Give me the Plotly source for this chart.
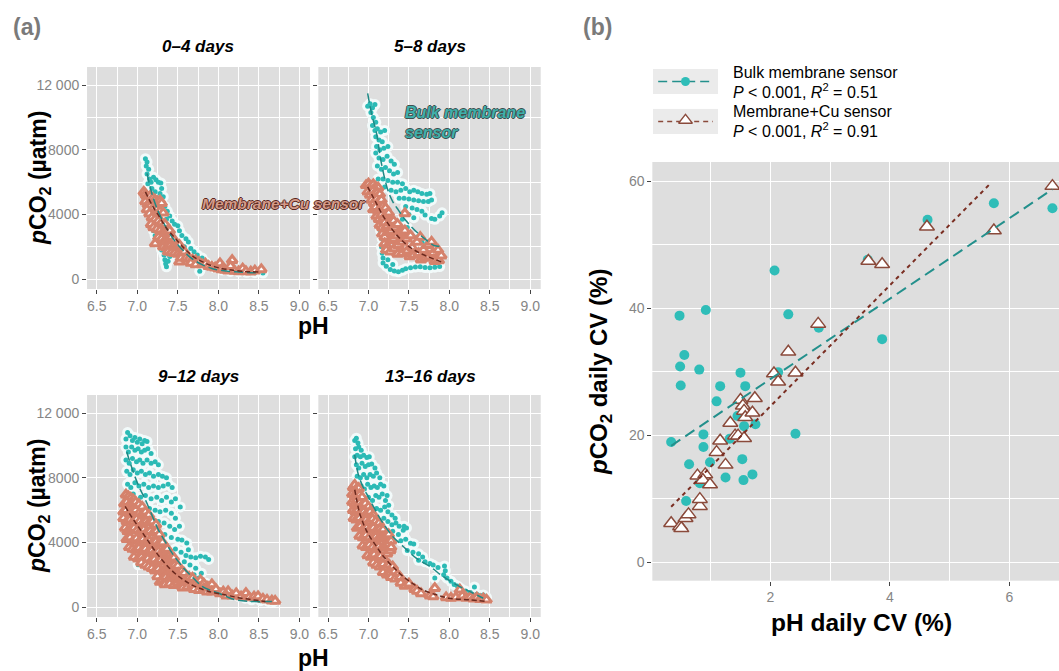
import plotly.graph_objects as go

# colours / fonts
TEAL = "#2BBAB5"
TEAL_LINE = "#1E8985"
SALMON = "#D5826C"
BROWN = "#6B2A1F"
TRI_EDGE = "#8A4A3B"
PANEL = "#DEDEDE"
TICK_TXT = "#858585"
FONT = "Liberation Sans"

##############################################################
# panel (a): pCO2 vs pH, one facet per period  (pH, pCO2 uatm)
##############################################################
facet_titles = ["0–4 days", "5–8 days", "9–12 days", "13–16 days"]

bulk_04 = [(7.10,7450),(7.12,7250),(7.11,7000),(7.14,6800),(7.12,6500),(7.15,6200),(7.13,5900),(7.17,6000),
           (7.20,6300),(7.23,6150),(7.26,6000),(7.29,5950),(7.30,5600),(7.28,5300),(7.32,5100),(7.18,5600),
           (7.22,5400),(7.25,5000),(7.30,4700),(7.34,4500),(7.37,4200),(7.21,4600),(7.24,4300),(7.40,3900),
           (7.43,3600),(7.46,3400),(7.50,3300),(7.36,3700),(7.52,3000),(7.55,2700),(7.60,2500),(7.63,2300),
           (7.58,2000),(7.66,1900),(7.70,1700),(7.74,1500),(7.80,1300),(7.84,1050),(7.90,850),(7.77,490),
           (7.20,3000),(7.22,2700),(7.25,2400),(7.28,2100),(7.30,1800),(7.33,1500),(7.34,1200),(7.35,950),
           (7.36,760),(7.38,1100),(7.40,1400),(7.42,1800),(7.95,700),(8.05,560),(8.15,480),(8.25,450),
           (8.35,420),(8.45,400),(8.55,380),(7.32,3300),(7.28,3700),(7.26,2700)]
cu_04 = [(7.08,5400),(7.10,5250),(7.12,5100),(7.14,5000),(7.16,5150),(7.19,5000),(7.22,4900),(7.25,4800),
         (7.28,4850),(7.30,4700),(7.10,4800),(7.13,4600),(7.16,4500),(7.20,4400),(7.24,4300),(7.28,4200),
         (7.32,4100),(7.12,4300),(7.15,4050),(7.18,3800),(7.22,3700),(7.26,3600),(7.30,3500),(7.34,3400),
         (7.17,3400),(7.20,3200),(7.24,3100),(7.28,3000),(7.32,2900),(7.36,2950),(7.40,3000),(7.22,2200),
         (7.26,2600),(7.30,2500),(7.34,2400),(7.38,2500),(7.42,2600),(7.46,2400),(7.32,2000),(7.36,1950),
         (7.40,2050),(7.44,2000),(7.48,2000),(7.52,2100),(7.38,1700),(7.42,1650),(7.46,1600),(7.50,1550),
         (7.55,1600),(7.58,1700),(7.52,1070),(7.54,1300),(7.60,1300),(7.64,1250),(7.68,1200),(7.72,1150),
         (7.76,1050),(7.66,1000),(7.72,900),(7.80,900),(7.84,950),(7.88,800),(7.92,750),(7.96,700),
         (8.00,650),(8.02,970),(8.04,600),(8.08,560),(8.12,520),(8.17,1170),(8.15,800),(8.20,500),
         (8.25,480),(8.30,650),(8.34,480),(8.40,460),(8.45,520),(8.53,600)]
fit_bulk_04 = [(7.12,6540),(7.18,5300),(7.26,4160),(7.36,3150),(7.47,2310),(7.57,1750),(7.67,1280),
               (7.80,900),(7.92,660),(8.05,530),(8.21,450),(8.35,410),(8.50,390)]
fit_cu_04 = [(7.10,5400),(7.18,4600),(7.26,3960),(7.36,3150),(7.47,2520),(7.57,1950),(7.67,1480),
             (7.80,1080),(7.96,760),(8.12,590),(8.29,490),(8.50,440)]

bulk_58 = [(6.99,10700),(7.02,10850),(7.05,10600),(7.08,10800),(7.03,10300),(7.06,10000),(7.09,9700),
           (7.05,9500),(7.08,9200),(7.11,9300),(7.15,9100),(7.20,9200),(7.09,8800),(7.13,8600),(7.17,8500),
           (7.10,8200),(7.14,8000),(7.19,8100),(7.24,8200),(7.09,7800),(7.13,7500),(7.18,7400),(7.23,7600),
           (7.28,7300),(7.32,7100),(7.11,7000),(7.16,6800),(7.21,6900),(7.26,6700),(7.31,6500),(7.36,6600),
           (7.12,6200),(7.18,6200),(7.24,6100),(7.30,6000),(7.36,6000),(7.42,5900),(7.20,5700),(7.28,5500),
           (7.34,5400),(7.40,5500),(7.46,5600),(7.51,5400),(7.56,5500),(7.61,5400),(7.66,5300),(7.72,5250),
           (7.76,5300),(7.38,5000),(7.44,5000),(7.50,4950),(7.56,4900),(7.62,4850),(7.68,4800),(7.74,4800),
           (7.78,4900),(7.46,4500),(7.54,4400),(7.60,4300),(7.66,4200),(7.70,3960),(7.78,3750),(7.82,3700),
           (7.88,3900),(7.91,4100),(7.50,4000),(7.56,3800),(7.14,3500),(7.15,3000),(7.17,2500),(7.16,2000),
           (7.17,1600),(7.18,1300),(7.18,1000),(7.22,800),(7.27,600),(7.32,500),(7.37,450),(7.42,550),
           (7.46,650),(7.52,700),(7.58,750),(7.64,760),(7.70,720),(7.76,700),(7.82,740),(7.88,780),
           (7.24,1200),(7.30,900),(7.60,2600),(7.66,2300),(7.72,2200),(7.48,3200),(7.42,3700)]
cu_58 = [(6.97,5800),(7.00,5900),(7.03,5750),(7.06,5850),(7.09,5700),(7.12,5650),(6.99,5400),(7.02,5200),
         (7.05,5450),(7.08,5300),(7.11,5350),(7.14,5250),(7.04,4900),(7.07,4700),(7.10,4950),(7.13,4800),
         (7.16,4900),(7.06,4300),(7.09,4450),(7.12,4200),(7.15,4400),(7.18,4500),(7.21,4400),(7.10,3900),
         (7.13,3700),(7.16,4000),(7.19,3800),(7.22,4000),(7.25,4100),(7.14,3350),(7.17,3200),(7.20,3500),
         (7.23,3300),(7.27,3500),(7.31,3600),(7.17,2800),(7.20,2600),(7.24,2900),(7.28,3000),(7.32,3200),
         (7.36,3400),(7.45,4060),(7.20,2200),(7.23,2000),(7.27,2400),(7.31,2500),(7.35,2700),(7.40,2900),
         (7.45,3000),(7.22,1800),(7.27,1700),(7.32,1900),(7.37,2100),(7.42,2300),(7.47,2500),(7.52,2700),
         (7.36,1550),(7.42,1600),(7.48,1750),(7.54,1950),(7.60,2300),(7.64,2600),(7.51,1400),(7.56,1500),
         (7.62,1600),(7.68,1800),(7.74,2100),(7.78,2300),(7.65,1200),(7.70,1300),(7.75,1400),(7.80,1600),
         (7.86,1800),(7.82,1100),(7.87,1150),(7.90,1450)]
fit_bulk_58 = [(6.99,11490),(7.04,10200),(7.10,9010),(7.16,7160),(7.24,5500),(7.30,4800),(7.37,4270),
               (7.45,3700),(7.53,3240),(7.61,2850),(7.69,2520),(7.82,2060),(7.90,2050)]
fit_cu_58 = [(6.99,5710),(7.06,5050),(7.12,4470),(7.18,3920),(7.24,3450),(7.32,2900),(7.41,2410),
             (7.49,2060),(7.57,1790),(7.65,1570),(7.74,1380),(7.82,1220),(7.90,1070)]

bulk_912 = [(6.86,10400),(6.88,10800),(6.91,10600),(6.94,10300),(6.97,10500),(7.00,10200),(7.03,10400),
            (7.06,10100),(7.09,10300),(7.12,10250),(6.86,9900),(6.89,9600),(6.93,9900),(6.97,9700),
            (7.01,9800),(7.05,9600),(7.09,9700),(7.13,9800),(7.17,9500),(6.86,9100),(6.90,8900),(6.94,9200),
            (6.99,9000),(7.03,9100),(7.07,8900),(7.12,9100),(7.17,8900),(7.22,9000),(7.26,8800),(6.87,8400),
            (6.91,8200),(6.95,8500),(7.00,8300),(7.05,8400),(7.10,8200),(7.15,8300),(7.20,8100),(7.26,8200),
            (7.31,8100),(7.36,8000),(6.88,7600),(6.92,7400),(6.97,7700),(7.02,7500),(7.08,7600),(7.14,7400),
            (7.20,7500),(7.26,7400),(7.32,7500),(7.38,7600),(7.43,7400),(6.90,6900),(6.95,7000),(7.04,6800),
            (7.10,6900),(7.17,6700),(7.24,6800),(7.30,6600),(7.36,6800),(7.42,6500),(7.47,6700),(7.53,6200),
            (7.15,6100),(7.22,6000),(7.28,5900),(7.35,6000),(7.42,5800),(7.47,5500),(7.26,5300),(7.33,5200),
            (7.40,5000),(7.46,4800),(7.52,5000),(7.34,4500),(7.42,4300),(7.50,4200),(7.55,4150),(7.61,3960),
            (7.63,3550),(7.47,3600),(7.54,3400),(7.60,3200),(7.66,3100),(7.72,3050),(7.78,3150),(7.84,3100),
            (7.88,2950),(7.58,2800),(7.65,2600),(7.72,2400),(7.79,2100),(7.01,2620),(7.03,2800),(7.05,2950),
            (7.70,2000),(7.76,1800),(7.84,1500),(7.92,1250),(8.00,1050),(8.08,870),(8.16,750),(8.25,660),
            (8.33,550),(8.41,450),(8.52,400),(8.62,350),(8.68,340)]
cu_912 = [(6.86,6950),(6.89,6850),(6.92,6750),(6.95,6650),(6.84,6400),(6.87,6500),(6.90,6300),(6.94,6400),
          (6.98,6500),(7.02,6350),(7.06,6200),(6.83,5900),(6.86,6000),(6.90,5800),(6.94,5900),(6.98,6000),
          (7.02,5800),(7.06,5750),(7.10,5900),(7.14,5700),(6.83,5500),(6.87,5300),(6.91,5400),(6.95,5300),
          (6.99,5450),(7.03,5300),(7.07,5200),(7.11,5300),(7.15,5250),(7.19,5300),(7.23,5100),(6.85,4900),
          (6.88,4700),(6.92,4800),(6.96,4900),(7.00,4750),(7.04,4700),(7.08,4800),(7.12,4650),(7.16,4700),
          (7.20,4600),(7.24,4700),(7.27,4500),(6.87,4200),(6.91,4300),(6.95,4100),(6.99,4250),(7.03,4100),
          (7.07,4200),(7.11,4050),(7.15,4100),(7.19,4000),(7.23,4050),(7.27,3950),(7.31,4000),(6.90,3700),
          (6.94,3600),(6.98,3550),(7.02,3650),(7.06,3500),(7.10,3600),(7.14,3450),(7.18,3500),(7.22,3400),
          (7.26,3450),(7.30,3350),(7.34,3500),(7.37,3600),(6.96,3100),(7.01,3000),(7.05,3100),(7.09,2900),
          (7.13,3000),(7.17,2850),(7.21,2950),(7.25,2800),(7.29,2900),(7.33,2800),(7.37,2950),(7.41,3000),
          (7.45,3050),(7.05,2750),(7.10,2600),(7.14,2500),(7.18,2400),(7.22,2250),(7.26,2350),(7.30,2200),
          (7.34,2300),(7.38,2400),(7.42,2500),(7.46,2600),(7.50,2550),(7.25,1900),(7.28,1550),(7.31,1700),
          (7.35,1850),(7.39,1750),(7.43,1900),(7.47,2000),(7.51,2100),(7.55,2250),(7.58,2100),(7.34,1400),
          (7.40,1450),(7.45,1350),(7.50,1500),(7.55,1600),(7.60,1700),(7.64,1850),(7.68,1800),(7.56,1200),
          (7.62,1250),(7.68,1350),(7.73,1500),(7.78,1650),(7.82,1450),(7.70,1100),(7.76,1050),(7.82,1150),
          (7.87,1250),(7.92,1400),(7.86,950),(7.92,950),(7.97,1100),(8.02,850),(8.06,950),(8.12,970),
          (8.10,700),(8.17,700),(8.22,850),(8.28,650),(8.34,860),(8.38,600),(8.44,650),(8.49,660),
          (8.55,500),(8.60,450),(8.66,400),(8.70,380)]
fit_bulk_912 = [(6.87,9600),(6.92,8800),(6.97,8080),(7.03,7350),(7.10,6640),(7.18,5700),(7.26,4780),
                (7.35,4000),(7.43,3340),(7.51,2800),(7.59,2310),(7.70,1750),(7.80,1280),(7.90,1050),
                (8.00,870),(8.10,650),(8.21,450),(8.41,350),(8.66,350)]
fit_cu_912 = [(6.85,6230),(6.93,5580),(7.01,4990),(7.10,4340),(7.18,3750),(7.26,3200),(7.34,2720),
              (7.42,2290),(7.51,1900),(7.59,1620),(7.67,1380),(7.78,1150),(7.88,970),(8.08,760),
              (8.29,550),(8.58,350)]

bulk_1316 = [(6.83,10300),(6.85,10450),(6.87,10150),(6.84,9800),(6.88,9900),(6.91,9700),(6.83,9300),
             (6.86,9400),(6.90,9300),(6.94,9400),(6.98,9250),(7.01,9300),(6.85,8800),(6.88,8600),(6.92,8900),
             (6.96,8700),(7.00,8800),(7.04,8850),(7.08,8600),(6.86,8100),(6.90,8000),(6.94,8200),(6.98,8000),
             (7.02,8200),(7.06,8100),(7.10,8300),(7.14,8000),(6.91,7500),(6.95,7300),(6.99,7600),(7.03,7400),
             (7.07,7500),(7.11,7400),(7.15,7600),(7.19,7500),(7.23,6900),(7.00,6800),(7.05,6600),(7.09,6900),
             (7.13,6800),(7.17,7000),(7.21,6600),(7.25,6300),(7.10,6100),(7.15,6000),(7.20,6200),(7.24,5900),
             (7.29,5700),(7.33,5500),(7.19,5500),(7.24,5300),(7.29,5100),(7.34,5200),(7.38,5000),(7.44,5000),
             (7.30,4700),(7.37,4500),(7.43,4750),(7.47,4900),(7.40,4100),(7.46,4200),(7.52,3950),(7.56,3900),
             (7.48,3500),(7.55,3400),(7.62,3300),(7.67,3100),(7.62,2900),(7.70,2800),(7.76,2700),(7.80,2600),
             (7.86,2450),(7.94,2550),(7.95,2250),(7.93,2000),(7.82,1800),(7.97,1800),(8.02,1600),(8.06,1400),
             (8.10,1300),(8.14,1150),(8.20,1000),(8.26,900),(8.31,1250),(8.34,800),(8.38,700),(8.42,750),
             (8.46,600),(8.44,500)]
cu_1316 = [(6.81,7400),(6.83,7550),(6.85,7300),(6.88,7350),(6.80,7000),(6.83,6900),(6.86,7000),(6.89,6950),
           (6.92,6800),(6.80,6500),(6.83,6400),(6.86,6600),(6.89,6450),(6.92,6300),(6.96,6400),(7.00,6200),
           (6.81,6000),(6.84,5900),(6.87,6000),(6.90,5850),(6.94,5900),(6.98,5800),(7.02,5900),(7.06,5700),
           (6.82,5500),(6.85,5400),(6.89,5500),(6.93,5350),(6.97,5400),(7.01,5300),(7.05,5450),(7.09,5300),
           (7.13,5200),(6.86,4900),(6.90,5000),(6.94,4850),(6.98,4900),(7.02,4800),(7.06,4900),(7.10,4750),
           (7.14,4850),(7.18,4800),(6.89,4400),(6.93,4300),(6.97,4450),(7.01,4300),(7.05,4200),(7.09,4350),
           (7.13,4250),(7.17,4300),(7.21,4400),(7.25,4500),(6.93,3800),(6.97,3700),(7.01,3850),(7.05,3700),
           (7.09,3600),(7.13,3750),(7.17,3650),(7.21,3800),(7.25,3900),(7.28,4100),(6.99,3200),(7.03,3100),
           (7.07,3250),(7.11,3050),(7.15,3150),(7.19,3000),(7.23,3300),(7.27,3500),(7.28,3700),(7.06,2750),
           (7.10,2600),(7.14,2500),(7.18,2650),(7.22,2450),(7.26,2600),(7.30,2500),(7.18,2150),(7.23,2000),
           (7.27,2100),(7.32,2200),(7.36,2000),(7.28,1850),(7.33,1750),(7.39,1850),(7.40,1500),(7.45,1300),
           (7.50,1450),(7.57,1100),(7.60,1000),(7.65,850),(7.76,700),(7.82,1170),(7.80,650),(7.96,600),
           (8.02,560),(8.08,600),(8.13,1070),(8.16,700),(8.21,560),(8.26,620),(8.30,520),(8.34,580),
           (8.38,480),(8.42,520),(8.46,450)]
fit_bulk_1316 = [(6.83,9420),(6.87,8290),(6.93,7460),(7.00,6800),(7.06,6230),(7.12,5680),(7.18,5200),
                 (7.24,4760),(7.30,4370),(7.43,3750),(7.59,3030),(7.76,2510),(7.92,1900),(8.09,1380),
                 (8.25,970),(8.42,550)]
fit_cu_1316 = [(6.83,7260),(6.86,6500),(6.89,5810),(6.93,5250),(6.97,4780),(7.03,4250),(7.10,3750),
               (7.16,3300),(7.22,2930),(7.28,2600),(7.34,2310),(7.42,1930),(7.51,1590),(7.59,1310),
               (7.67,1070),(7.84,760),(8.00,550),(8.25,450),(8.46,350)]

##############################################################
# panel (b): daily CV (%)
##############################################################
bulk_ph_cv = [0.34, 0.48, 0.92, 0.56, 0.49, 0.81, 0.50, 1.16, 1.10, 1.50, 1.58, 1.45, 1.56, 1.75, 0.88,
              1.32, 0.88, 0.64, 0.99, 1.53, 1.25, 1.55, 1.70, 0.82, 0.59, 2.07, 2.30, 2.81, 2.13, 2.42,
              3.63, 3.87, 4.63, 5.74, 6.72]
bulk_pco2_cv = [18.9, 38.8, 39.7, 32.6, 30.8, 30.3, 27.8, 27.7, 25.3, 29.8, 27.7, 23.0, 21.4, 21.7, 20.1,
                19.4, 18.1, 15.4, 15.7, 16.2, 13.3, 12.9, 13.8, 12.4, 9.6, 45.9, 39.0, 36.9, 29.9, 20.2,
                47.6, 35.1, 53.9, 56.5, 55.7]
cu_ph_cv = [0.34, 0.49, 0.51, 0.58, 0.63, 0.82, 0.82, 0.78, 0.91, 0.87, 0.99, 1.10, 1.16, 1.25, 1.33,
            1.41, 1.46, 1.56, 1.50, 1.54, 1.56, 1.58, 1.70, 1.74, 2.06, 2.13, 2.30, 2.42, 2.80, 3.64,
            3.87, 4.62, 5.74, 6.72]
cu_pco2_cv = [6.1, 5.6, 5.3, 6.9, 7.5, 8.8, 9.9, 13.6, 13.8, 12.9, 12.2, 17.3, 19.1, 15.3, 21.9,
              19.9, 19.9, 19.5, 25.5, 24.6, 23.8, 22.8, 23.5, 25.8, 29.7, 28.4, 33.1, 29.8, 37.5, 47.4,
              46.9, 52.8, 52.2, 59.2]
# regression lines (end points)
bulk_fit_x = [0.34, 6.72]
bulk_fit_y = [18.3, 58.7]
cu_fit_x = [0.34, 5.67]
cu_fit_y = [8.7, 59.5]

legend_names = ["Bulk membrane sensor", "Membrane+Cu sensor"]
legend_stats = ["<i>P</i> &lt; 0.001, <i>R</i><sup>2</sup> = 0.51",
                "<i>P</i> &lt; 0.001, <i>R</i><sup>2</sup> = 0.91"]

a_ticks_x = [6.5, 7.0, 7.5, 8.0, 8.5, 9.0]
a_ticks_y = [0, 4000, 8000, 12000]
a_ticktext_y = ["0", "4000", "8000", "12 000"]


def xs(pts):
    return [p[0] for p in pts]


def ys(pts):
    return [p[1] for p in pts]


fig = go.Figure()

panels = [
    (bulk_04, cu_04, fit_bulk_04, fit_cu_04),
    (bulk_58, cu_58, fit_bulk_58, fit_cu_58),
    (bulk_912, cu_912, fit_bulk_912, fit_cu_912),
    (bulk_1316, cu_1316, fit_bulk_1316, fit_cu_1316),
]

for i, (bulk, cu, fb, fc) in enumerate(panels):
    n = "" if i == 0 else str(i + 1)
    xa, ya = "x" + n, "y" + n
    # white halo under the teal dots, then the dots
    fig.add_trace(go.Scatter(x=xs(bulk), y=ys(bulk), mode="markers", xaxis=xa, yaxis=ya,
                             marker=dict(size=11, color="#F2FAFA", line=dict(width=0))))
    fig.add_trace(go.Scatter(x=xs(bulk), y=ys(bulk), mode="markers", xaxis=xa, yaxis=ya,
                             marker=dict(size=5, color=TEAL, line=dict(width=0))))
    # triangles: white halo then salmon outline
    fig.add_trace(go.Scatter(x=xs(cu), y=ys(cu), mode="markers", xaxis=xa, yaxis=ya,
                             marker=dict(symbol="triangle-up", size=11.5, color="white", line=dict(width=0))))
    fig.add_trace(go.Scatter(x=xs(cu), y=ys(cu), mode="markers", xaxis=xa, yaxis=ya,
                             marker=dict(symbol="triangle-up", size=9, color="white",
                                         line=dict(color=SALMON, width=3))))
    fig.add_trace(go.Scatter(x=xs(fb), y=ys(fb), mode="lines", xaxis=xa, yaxis=ya,
                             line=dict(color=TEAL_LINE, width=1.5, dash="9px,4px", shape="spline")))
    fig.add_trace(go.Scatter(x=xs(fc), y=ys(fc), mode="lines", xaxis=xa, yaxis=ya,
                             line=dict(color=BROWN, width=1.5, dash="5px,3px", shape="spline")))

# panel (b)
fig.add_trace(go.Scatter(x=bulk_ph_cv, y=bulk_pco2_cv, mode="markers", xaxis="x5", yaxis="y5",
                         marker=dict(size=10, color="#2FBDB8")))
fig.add_trace(go.Scatter(x=cu_ph_cv, y=cu_pco2_cv, mode="markers", xaxis="x5", yaxis="y5",
                         marker=dict(symbol="triangle-up", size=13, color="white",
                                     line=dict(color=TRI_EDGE, width=1.5))))
fig.add_trace(go.Scatter(x=bulk_fit_x, y=bulk_fit_y, mode="lines", xaxis="x5", yaxis="y5",
                         line=dict(color="#23908C", width=2, dash="11px,6px")))
fig.add_trace(go.Scatter(x=cu_fit_x, y=cu_fit_y, mode="lines", xaxis="x5", yaxis="y5",
                         line=dict(color="#7A2E22", width=2, dash="4px,4px")))

# legend keys for (b), drawn by hand in two tiny axes
fig.add_trace(go.Scatter(x=[0.08, 0.92], y=[0.5, 0.5], mode="lines", xaxis="x6", yaxis="y6",
                         line=dict(color="#23908C", width=1.3, dash="9px,5px")))
fig.add_trace(go.Scatter(x=[0.5], y=[0.5], mode="markers", xaxis="x6", yaxis="y6",
                         marker=dict(size=9, color="#2FBDB8")))
fig.add_trace(go.Scatter(x=[0.08, 0.92], y=[0.5, 0.5], mode="lines", xaxis="x7", yaxis="y7",
                         line=dict(color="#8A4A3B", width=1.3, dash="5px,4px")))
fig.add_trace(go.Scatter(x=[0.5], y=[0.55], mode="markers", xaxis="x7", yaxis="y7",
                         marker=dict(symbol="triangle-up", size=12, color="white",
                                     line=dict(color=TRI_EDGE, width=1.3))))

# axes
tick_font = dict(family=FONT, size=14, color=TICK_TXT)
grid = dict(showgrid=True, gridcolor="white", gridwidth=1.2, zeroline=False, showline=False,
            ticks="outside", ticklen=4, tickwidth=1, tickcolor="#444", tickfont=tick_font,
            automargin=False, fixedrange=True)

top = [0.5693, 0.9001]
bottom = [0.0805, 0.4113]
left = [0.0822, 0.2927]
right = [0.3006, 0.5106]
doms = [(left, top), (right, top), (left, bottom), (right, bottom)]

layout_axes = {}
for i, (dx, dy) in enumerate(doms):
    n = "" if i == 0 else str(i + 1)
    layout_axes["xaxis" + n] = dict(grid, domain=dx, anchor="y" + n, range=[6.38, 9.13],
                                    tickvals=a_ticks_x, ticktext=["6.5", "7.0", "7.5", "8.0", "8.5", "9.0"],
                                    minor=dict(dtick=0.25, tick0=6.5, showgrid=True,
                                               gridcolor="white", gridwidth=0.5))
    layout_axes["yaxis" + n] = dict(grid, domain=dy, anchor="x" + n, range=[-610, 13120],
                                    tickvals=a_ticks_y, ticktext=a_ticktext_y,
                                    showticklabels=(i % 2 == 0),
                                    minor=dict(dtick=2000, tick0=0, showgrid=True,
                                               gridcolor="white", gridwidth=0.5))

layout_axes["xaxis5"] = dict(grid, domain=[0.616, 1.0], anchor="y5", range=[0.025, 6.83],
                             tickvals=[2, 4, 6],
                             minor=dict(dtick=1, tick0=0, showgrid=True, gridcolor="white", gridwidth=0.5))
layout_axes["yaxis5"] = dict(grid, domain=[0.1346, 0.7586], anchor="x5", range=[-2.94, 63.0],
                             tickvals=[0, 20, 40, 60],
                             minor=dict(dtick=10, tick0=0, showgrid=True, gridcolor="white", gridwidth=0.5))
for k, dy in (("6", [0.8599, 0.8972]), ("7", [0.8003, 0.8376])):
    layout_axes["xaxis" + k] = dict(domain=[0.6166, 0.678], anchor="y" + k, range=[0, 1], visible=False,
                                    fixedrange=True)
    layout_axes["yaxis" + k] = dict(domain=dy, anchor="x" + k, range=[0, 1], visible=False, fixedrange=True)

fig.update_layout(**layout_axes)

# key backgrounds
shapes = []
for k in ("6", "7"):
    shapes.append(dict(type="rect", xref="x" + k + " domain", yref="y" + k + " domain",
                       x0=0, x1=1, y0=0, y1=1, fillcolor="#EBEBEB", line=dict(width=0), layer="below"))


# annotations (pixel positions converted to paper)
W, H = 1059, 671


def ann(text, px, py, size, color="black", angle=0, xanchor="center", shadow=None):
    font = dict(family=FONT, size=size, color=color)
    if shadow:
        font["shadow"] = shadow
    return dict(text=text, x=px / W, y=1 - py / H, xref="paper", yref="paper",
                showarrow=False, xanchor=xanchor, yanchor="middle", textangle=angle, font=font)


anns = [
    ann("<b>(a)</b>", 27, 27, 23, "#7A7A7A"),
    ann("<b>(b)</b>", 597, 27, 23, "#7A7A7A"),
]
centres = [(198, 47), (430, 47), (198, 376), (430, 376)]
for t, (cx, cy) in zip(facet_titles, centres):
    anns.append(ann("<b><i>" + t + "</i></b>", cx, cy, 17))

ylab_a = "<b><i>p</i>CO<sub>2</sub> (µatm)</b>"
anns += [
    ann(ylab_a, 39, 178, 23, angle=-90),
    ann(ylab_a, 39, 506, 23, angle=-90),
    ann("<b>pH</b>", 313, 326, 23),
    ann("<b>pH</b>", 313, 658, 23),
    ann("<b><i>p</i>CO<sub>2</sub> daily CV (%)</b>", 600, 372, 24, angle=-90),
    ann("<b>pH daily CV (%)</b>", 861, 622, 24.5),
]

outline_teal = "-1px 0 #3F4F4E, 1px 0 #3F4F4E, 0 -1px #3F4F4E, 0 1px #3F4F4E"
outline_brown = "-1px 0 #5A261C, 1px 0 #5A261C, 0 -1px #5A261C, 0 1px #5A261C"
anns += [
    ann("<b><i>Bulk membrane</i></b>", 403, 113, 16, "#3FB0AB", xanchor="left", shadow=outline_teal),
    ann("<b><i>sensor</i></b>", 403, 133, 16, "#3FB0AB", xanchor="left", shadow=outline_teal),
    ann("<b><i>Membrane+Cu sensor</i></b>", 200, 203, 15.5, "#D49A88", xanchor="left", shadow=outline_brown),
]

# legend text for (b)
anns += [
    ann(legend_names[0], 731, 72, 16, xanchor="left"),
    ann(legend_stats[0], 731, 91, 16, xanchor="left"),
    ann(legend_names[1], 731, 111, 16, xanchor="left"),
    ann(legend_stats[1], 731, 130, 16, xanchor="left"),
]

fig.update_layout(
    width=W, height=H,
    margin=dict(l=0, r=0, t=0, b=0),
    paper_bgcolor="white",
    plot_bgcolor=PANEL,
    showlegend=False,
    font=dict(family=FONT),
    shapes=shapes,
    annotations=anns,
)

# drop the page's default body margin so the figure sits at the window corner
fig.write_html("out.html", config={"displayModeBar": False},
               post_script="document.body.style.margin='0';")
